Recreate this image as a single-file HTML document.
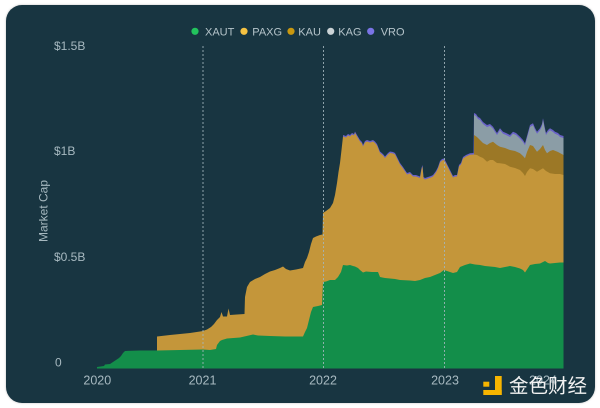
<!DOCTYPE html>
<html><head><meta charset="utf-8"><style>
html,body{margin:0;padding:0;background:#fff;width:600px;height:408px;overflow:hidden}
.card{position:absolute;left:6px;top:5px;width:589px;height:398px;background:#183541;border-radius:16px;box-shadow:0 0 2px rgba(0,0,0,.25)}
svg{position:absolute;left:0;top:0}
</style></head><body>
<div class="card"></div>
<svg width="600" height="408" viewBox="0 0 600 408" xmlns="http://www.w3.org/2000/svg">
<defs><clipPath id="pc"><rect x="90" y="40" width="480" height="328.5"/></clipPath></defs>
<g clip-path="url(#pc)">
<!-- VRO (overall top) -->
<path fill="#6a62c8" d="M343,368.5 L343,135 346,136 348,134 350,135 352,133 354,134 355,131.5 357,135 360,140 362,142 363,145 365,141 367,140 370,141 373,140 375,141.5 377,144 380,151.5 383,154 385,156.5 388,153 390,151.5 393,152 395,153 397,157 400,163 403,167 405,170 407,173 410,172 413,175 416,175 420,176.5 421.5,168 422.5,165 423.5,177 425,178 428,177 431,176 433,175 436,171 438,167 440,161 442,159 444,158.5 446,162 448,166 450,170 452,174 453,176 455,175 457,175 459,165 461,163 463,157 466,155 470,153.3 473.5,153 474,113 476,114 478,117 480,118 483,122 487,125 490,124 493,126.7 495,130 497,133 500,128.3 503,131.7 506,133 510,135 513,131.7 516,133 520,136.7 523,140 525,143.3 527,136 530,125 533,123.3 535,128 537,131.7 540,128.3 542,124 543,118.3 544.5,126 546,133 548,130 550,128.3 553,130 555,131.7 558,133 560,135 563.5,136 563.5,368.5 Z"/>
<!-- KAG -->
<path fill="#8b9da6" d="M474,368.5 L474,115 476,116 478,119 480,120 483,124 487,127 490,126 493,128.7 495,132 497,135 500,130.3 503,133.7 506,135 510,137 513,133.7 516,135 520,138.7 523,142 525,145.3 527,138 530,127 533,125.3 535,130 537,133.7 540,130.3 542,126 543,120.3 544.5,128 546,135 548,132 550,130.3 553,132 555,133.7 558,135 560,137 563.5,138 563.5,368.5 Z"/>
<!-- KAU -->
<path fill="#9c7826" d="M474,368.5 L474,135 477,137 480,140 483,143 487,145 490,143 493,141.7 497,145 500,146.7 505,148 510,150 515,151 520,153.3 523,156 525,158.3 527,152 530,145 533,146 537,151.7 540,149 543,145 545,150 547,153.3 550,151 553,150 558,152 563.5,155 563.5,368.5 Z"/>
<!-- PAXG -->
<path fill="#c4963a" d="M157,368.5 L157,336.5 170,335 180,334 190,333 200,331.5 203,331 207,329.5 211,327 214,324 217,320 220,317 221.5,312 223,316.5 227,316.5 228.5,308.5 230,315 237,314.5 244.5,314 245,297 247,287 250,282 255,279 260,277 265,274 270,271.5 275,270 280,268 283,266.5 286,269 290,270.5 296,269.5 303,268 305,262 307,258 309,252 311,244 313,238 316,236.5 320,235 322.5,234.5 323,213 326,211 330,208 333,203 335,195 337,183 338.5,172 340,163 341.5,150 343,136.5 346,137.5 348,135.5 350,136.5 352,134.5 354,135.5 355,133 357,136.5 360,141.5 362,143.5 363,146.5 365,142.5 367,141.5 370,142.5 373,141.5 375,143 377,145.5 380,153 383,155.5 385,158 388,154.5 390,153 393,153.5 395,154.5 397,158.5 400,164.5 403,168.5 405,171.5 407,174.5 410,173.5 413,176.5 416,176.5 420,178 421.5,169.5 422.5,166.5 423.5,178.5 425,179.5 428,178.5 431,177.5 433,176.5 436,172.5 438,168.5 440,162.5 442,160.5 444,160 446,163.5 448,167.5 450,171.5 452,175.5 453,177.5 455,176.5 457,176.5 459,166.5 461,164.5 463,158.5 466,156.5 470,154.8 474,154.5 477,155 480,156.7 483,158 487,161.7 490,160 493,160 497,163 500,163.3 505,164 510,166.7 515,168 520,170 523,173 525,176 527,172 530,168.3 533,169 537,171.7 540,170 543,168.3 546,171 550,173.3 555,174 560,174 563.5,175 563.5,368.5 Z"/>
<!-- XAUT -->
<path fill="#138e4a" d="M97,368.5 L97,367 104,366 105,364.5 110,364 113,362 116,360 119,358 121,356 123,353 125,351 140,350.5 157,350.5 180,350 203,349.5 210,350 216,349 217,345 220,341 222,340 227,338.5 240,337.5 253,334.5 258,335.5 270,336 285,336.5 303,336.5 305,332 307,328 309,320 311,312 313,307 318,306 322,305 323,282 326,281.5 330,280 335,280 338,277 341,272 343,265 347,265.5 350,265 353,266 355,266.5 358,268 360,270 363,272.5 366,271.5 372,272 378,272 380,277 385,278 395,279 400,280 410,280.5 415,281 420,280 425,278 430,277 435,275 440,273 444,270 447,271 450,272 453,273 457,272 460,267 465,265 470,263.5 475,264.5 480,265 485,266 490,266.5 495,267 500,268 505,267 510,266 515,267 520,268.5 523,270 525,272.5 528,268 530,265 535,264 540,263.5 545,261 548,263 550,263.5 555,263 560,262.5 563.5,262.5 563.5,368.5 Z"/>
</g>
<!-- dashed year lines -->
<g stroke="#a3b6bd" stroke-width="1" stroke-dasharray="2,2" opacity="0.85">
<line x1="203" y1="46" x2="203" y2="368.5"/>
<line x1="323.5" y1="46" x2="323.5" y2="368.5"/>
<line x1="444.5" y1="46" x2="444.5" y2="368.5"/>
</g>
<!-- legend -->
<g font-family="Liberation Sans, sans-serif" font-size="11" fill="#b5c4ca">
<circle cx="195" cy="31.3" r="3.6" fill="#22c35d"/><text x="205" y="35.3">XAUT</text>
<circle cx="244" cy="31.3" r="3.6" fill="#f5c242"/><text x="252.3" y="35.3">PAXG</text>
<circle cx="291" cy="31.3" r="3.6" fill="#c9980f"/><text x="298.3" y="35.3">KAU</text>
<circle cx="330.7" cy="31.3" r="3.6" fill="#cbd3d6"/><text x="338.3" y="35.3">KAG</text>
<circle cx="370.7" cy="31.3" r="3.6" fill="#7a74e6"/><text x="380.7" y="35.3">VRO</text>
</g>
<!-- y axis -->
<g font-family="Liberation Sans, sans-serif" font-size="12" fill="#a7b9c0">
<text x="54" y="50">$1.5B</text>
<text x="54" y="155">$1B</text>
<text x="54" y="261">$0.5B</text>
<text x="55" y="366.6">0</text>
<text transform="translate(47.5,211) rotate(-90)" text-anchor="middle">Market Cap</text>
</g>
<!-- x axis -->
<g font-family="Liberation Sans, sans-serif" font-size="12.5" fill="#a7b9c0" text-anchor="middle">
<text x="97.3" y="384.5">2020</text>
<text x="202.5" y="384.5">2021</text>
<text x="323" y="384.5">2022</text>
<text x="445" y="384.5">2023</text>
<text x="543" y="384.5">2024</text>
</g>
<!-- watermark -->
<g fill="#f7b500">
<rect x="483.3" y="381.7" width="6" height="5"/>
<rect x="495" y="376" width="6.7" height="19"/>
<rect x="483.3" y="390" width="18.4" height="5"/>
</g>
<text x="509" y="392.5" font-family="Liberation Sans, 'Noto Sans CJK SC', sans-serif" font-size="19.5" fill="#f2f2f2">金色财经</text>
</svg>
</body></html>
